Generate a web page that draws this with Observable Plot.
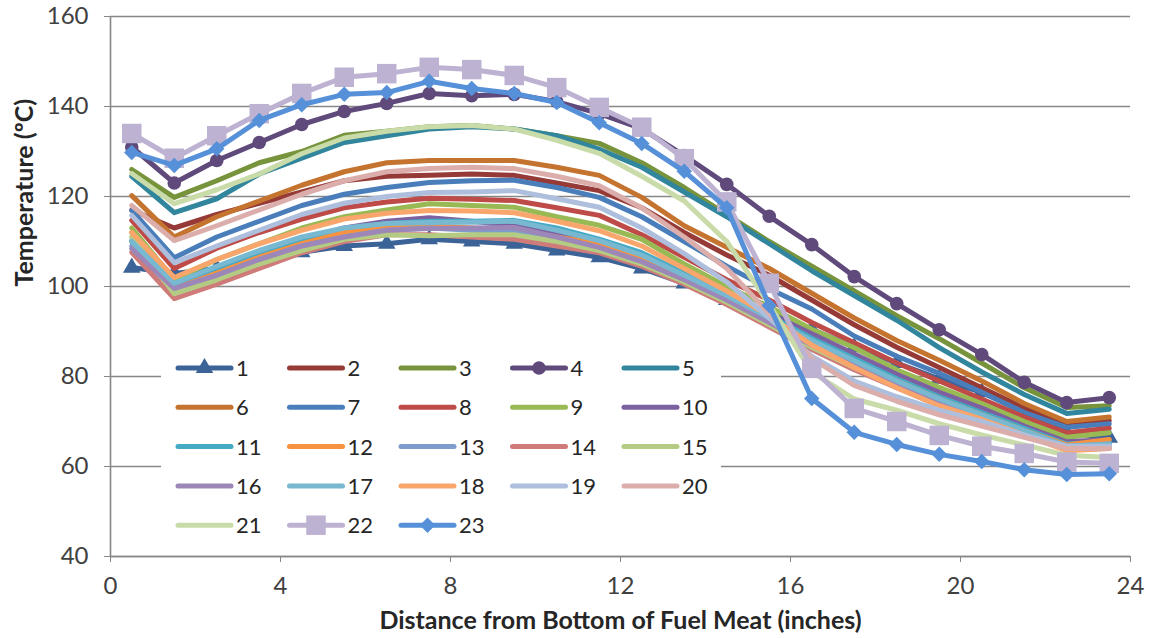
<!DOCTYPE html>
<html><head><meta charset="utf-8">
<script src="https://cdn.jsdelivr.net/npm/d3@7"></script>
<script src="https://cdn.jsdelivr.net/npm/@observablehq/plot@0.6"></script>
<style>
body{margin:0;background:#fff;}
#wrap{position:relative;width:1153px;height:638px;font-family:Lato,"Open Sans",sans-serif;}
#legend{position:absolute;background:#fff;}
</style></head><body><div id="wrap"></div>
<script>
const xs = [0.5,1.5,2.5,3.5,4.5,5.5,6.5,7.5,8.5,9.5,10.5,11.5,12.5,13.5,14.5,15.5,16.5,17.5,18.5,19.5,20.5,21.5,22.5,23.5];
const seriesNames = ["1","2","3","4","5","6","7","8","9","10","11","12","13","14","15","16","17","18","19","20","21","22","23"];
const s1 = [104.2,102.9,104,106,107.6,109,109.5,110.5,110,109.5,108,106.5,104,100.7,97,94,90.5,86.5,83,79.5,76.5,72,67.5,66.4];
const s2 = [117,113,116,118.5,121,123.5,124.5,124.7,125,124.7,123,121.3,117.5,112,107,102.5,97,91.5,86.5,82,77.5,73,69,70.2];
const s3 = [126,119.8,123.5,127.5,130,133.6,134.5,135.5,135.8,135,133.5,131.8,127.5,122,116,110,104.5,99,93.5,88.4,83,77.5,73.1,73.5];
const s4 = [131,123,128,132,136,138.9,140.7,142.9,142.4,142.7,141.1,138.4,135.1,129.1,122.7,115.6,109.3,102.2,96.2,90.4,84.9,78.7,74.2,75.3];
const s5 = [124.5,116.4,119.5,125,128.5,132,133.5,135,135.5,135,133.5,130.5,126.5,121,115.5,109.5,103.5,98,92.5,86.4,81,76,71.8,72.7];
const s6 = [120.2,111,115.5,119,122.5,125.5,127.5,128,128,128,126.5,124.7,119.8,113.5,108.7,104,98.5,93,88,83.6,79,74,70,71];
const s7 = [116.9,106.4,111,114.5,118,120.5,122,123.1,123.5,123.6,122,119.8,115.5,110,104.5,99.5,95,89,84.5,80.7,76.5,72,68.7,69.5];
const s8 = [114.7,104,108.5,112,115,117.5,118.8,119.6,119.4,119.1,117.5,115.8,111.5,106.5,101.5,97,92,87.5,83,79,75,71,67.5,68.5];
const s9 = [113,101.5,106,109.5,113,115.5,117,118.4,118,117.6,115.5,113.6,110.5,105,100,95.5,90.5,86.4,81.5,77.6,74,70,66.5,67.5];
const s10 = [110,100.5,104,107.5,110.5,113,114.5,115.3,114.5,113.5,112,110,107,102.5,98,94,89.5,85,80.5,76.5,73,69,65.5,66];
const s11 = [110.2,100.2,104,107.5,110.5,112.8,114,114.5,114.5,114.7,113,110.5,107.5,103,98.5,93.5,88.5,84,79.5,75.5,72,68.5,65,65.5];
const s12 = [112,99.5,103,106.5,109.5,112,113,113.5,113,112.5,111,109.5,106.5,102,97.5,92.5,87.5,83,79,75,71.5,68,64.8,66];
const s13 = [109,99,102.5,106,109,111,112.5,113,112.5,112,110.5,108.5,105.5,101.5,97,92,87,82.5,78.5,74.5,71,67.5,64.5,65];
const s14 = [107.6,97.3,100.5,104,107.5,110,111.5,111.5,111,110.5,109,107.5,104.5,100.5,96,91,86,81.5,77.5,73.5,70,67,64,64.5];
const s15 = [111,98.4,101.5,105,108,110.5,111.5,111.3,111.5,111.5,110,108,105,101,96.5,91.5,86.5,82,78,74,70.5,67,64,64];
const s16 = [108.4,99.6,102.5,106,109,111,112.5,112.9,113,113.1,111,108.7,105.5,101.5,97,92,87,82.5,78,74,70.5,67,63.8,64];
const s17 = [110,100.7,104.5,108,111,113,114,114.2,114.3,114.5,112.5,110.2,107,102.5,98,93,88,83.5,79,75,71.5,68,64.5,65];
const s18 = [112,102,106,109.5,112.5,115,116.3,116.9,116.8,116.4,114.5,112.4,109,104,99,93.5,87,82,77.5,73.5,70.5,67,63.5,64];
const s19 = [115.8,105.3,109,112.5,116,118.5,120,120.9,121,121.3,119.5,117.6,113,107.3,101,93,84.5,79,75.5,72.5,70,67,64.5,64.5];
const s20 = [118,110.2,113.5,117,120.5,123.5,125.5,126.2,126.5,126.2,124.5,122.4,117.5,111,104,94,84,78,74.5,71.5,69,66.5,64,64];
const s21 = [125.1,118.4,121.5,125,129.5,133,134.5,135.5,135.8,135,132.5,129.6,124.5,119,110,96,81,75,72.5,69.5,67,64.8,62.5,62];
const s22 = [134,128.5,133.5,138.4,142.9,146.5,147.3,148.7,148.2,146.9,144.2,139.8,135.4,128.4,118.8,100.7,81.8,72.9,70,66.9,64.5,62.9,61,60.7];
const s23 = [129.8,126.9,130.6,136.9,140.4,142.7,143.1,145.6,144,142.9,140.9,136.4,131.8,125.6,117.5,95.8,75.1,67.6,64.9,62.7,61.1,59.3,58.2,58.4];
const seriesValues = [s1,s2,s3,s4,s5,s6,s7,s8,s9,s10,s11,s12,s13,s14,s15,s16,s17,s18,s19,s20,s21,s22,s23];
const colors = ["#3b6397","#953a37","#77933c","#604a7b","#31859c","#c5742f",
  "#4a7ebb","#be4b48","#98b954","#7d60a0","#46aac5","#f69240",
  "#7e9ccc","#cf7b79","#b3cb83","#9c87b8","#78b8d0","#f9a66c",
  "#adbfdc","#dbaeac","#c8dba8","#bdb2d2","#5590d8"];
const markerSymbols = {"1":"triangle","4":"circle","22":"square","23":"diamond2"};
const markerSizes = {"1":6.5,"4":6.8,"22":11,"23":7};
const yTicks = [40,60,80,100,120,140,160];
const xTicks = [0,4,8,12,16,20,24];
const xTitle = "Distance from Bottom of Fuel Meat (inches)";
const yTitle = "Temperature (ºC)";

const rows = [];
seriesNames.forEach((name, i) => {
  seriesValues[i].forEach((v, j) => rows.push({series: name, x: xs[j], y: v}));
});

const gray = "#878787";
const marks = [
  Plot.gridY(yTicks, {stroke: gray, strokeOpacity: 1, strokeWidth: 1.6}),
  Plot.ruleX([0], {stroke: gray, strokeWidth: 1.6}),
  Plot.ruleY([40], {stroke: gray, strokeWidth: 1.6}),
  Plot.axisY({ticks: yTicks, tickSize: 6, tickPadding: 16, stroke: gray, fill: "#404040", fontSize: 24, label: null}),
  Plot.axisX({ticks: xTicks, tickSize: 6, tickPadding: 14, stroke: gray, fill: "#404040", fontSize: 24, label: null}),
  Plot.text([xTitle], {frameAnchor: "bottom", dy: 72, fontWeight: "bold", fontSize: 25, fill: "#262626"}),
  Plot.text([yTitle], {frameAnchor: "left", dx: -86, rotate: -90, fontWeight: "bold", fontSize: 25, fill: "#262626"})
];
seriesNames.forEach((name, i) => {
  const d = rows.filter(r => r.series === name);
  marks.push(Plot.line(d, {x: "x", y: "y", stroke: colors[i], strokeWidth: 5, strokeLinejoin: "round", strokeLinecap: "round"}));
  if (markerSymbols[name]) {
    marks.push(Plot.dot(d, {x: "x", y: "y", symbol: markerSymbols[name], r: markerSizes[name], fill: colors[i], stroke: "none"}));
  }
});

const chart = Plot.plot({
  width: 1153, height: 638,
  marginLeft: 110, marginRight: 23, marginTop: 16, marginBottom: 82,
  x: {domain: [0, 24]},
  y: {domain: [40, 160]},
  style: {fontFamily: "Lato, 'Open Sans', sans-serif", background: "#fff"},
  marks
});
const wrap = document.getElementById("wrap");
wrap.appendChild(chart);

// legend overlay (inside plot area)
const lg = document.createElement("div");
lg.id = "legend";
lg.style.left = "161px"; lg.style.top = "346px"; lg.style.width = "560px"; lg.style.height = "200px";
wrap.appendChild(lg);
const svg = d3.select(lg).append("svg").attr("width", 560).attr("height", 200)
  .style("font-family", "Lato, 'Open Sans', sans-serif");
seriesNames.forEach((name, i) => {
  const col = i % 5, row = Math.floor(i / 5);
  const x0 = 17 + col * 111.5, y0 = 22 + row * 39.3;
  const g = svg.append("g");
  g.append("line").attr("x1", x0).attr("x2", x0 + 53).attr("y1", y0).attr("y2", y0)
    .attr("stroke", colors[i]).attr("stroke-width", 5).attr("stroke-linecap", "round");
  if (markerSymbols[name]) {
    const typeMap = {triangle: d3.symbolTriangle, circle: d3.symbolCircle, square: d3.symbolSquare, diamond2: d3.symbolDiamond2};
    const r = markerSizes[name];
    g.append("path").attr("d", d3.symbol(typeMap[markerSymbols[name]], Math.PI * r * r)())
      .attr("transform", `translate(${x0 + 26.5},${y0})`).attr("fill", colors[i]);
  }
  g.append("text").attr("x", x0 + 58).attr("y", y0).attr("dy", "0.36em")
    .attr("font-size", 22).attr("fill", "#262626").text(name);
});
</script></body></html>
